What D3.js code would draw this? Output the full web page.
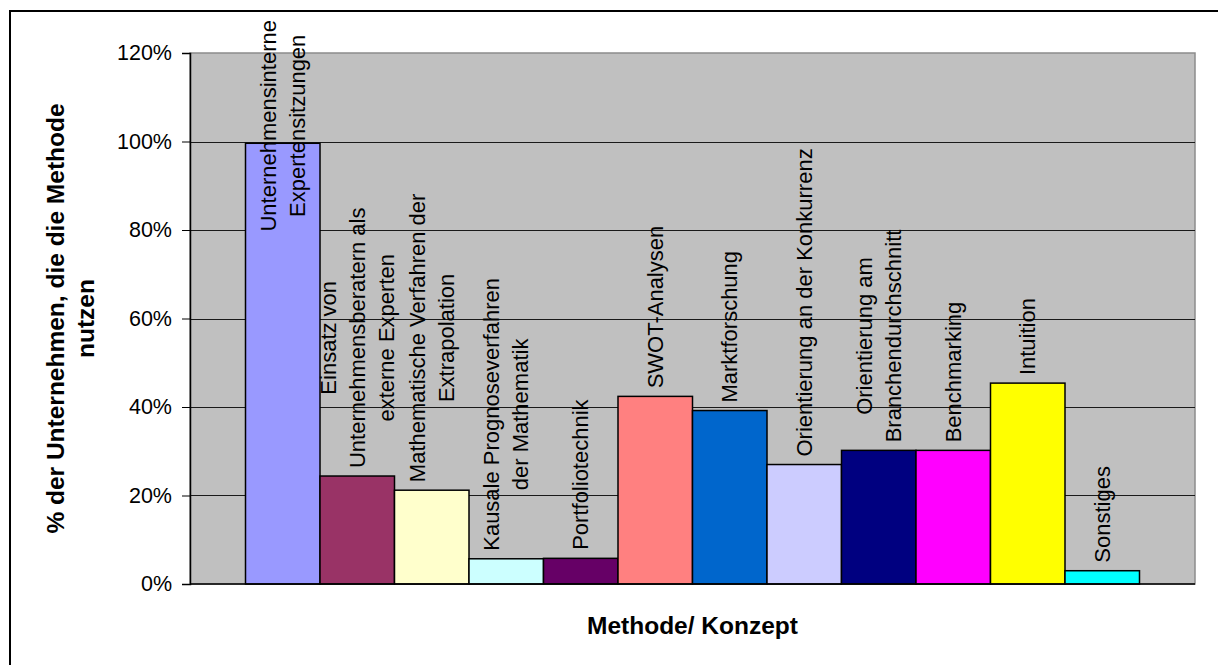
<!DOCTYPE html>
<html>
<head>
<meta charset="utf-8">
<script src="https://d3js.org/d3.v7.min.js"></script>
<style>
    body { margin: 0; background: #fff; }
    text { font-family: "Liberation Sans", Arial, sans-serif; fill: #000; }
</style>
</head>
<body>
<svg id="chart"></svg>
<script>
    // categories (label lines as shown above the bars)
    var categories = [
        ["Unternehmensinterne", "Expertensitzungen"],
        ["Einsatz von", "Unternehmensberatern als", "externe Experten"],
        ["Mathematische Verfahren der", "Extrapolation"],
        ["Kausale Prognoseverfahren", "der Mathematik"],
        ["Portfoliotechnik"],
        ["SWOT-Analysen"],
        ["Marktforschung"],
        ["Orientierung an der Konkurrenz"],
        ["Orientierung am", "Branchendurchschnitt"],
        ["Benchmarking"],
        ["Intuition"],
        ["Sonstiges"]
    ];
    // share of companies using the method
    var values = [0.996, 0.244, 0.212, 0.057, 0.058, 0.424, 0.392, 0.270, 0.302, 0.302, 0.454, 0.030];
    var colors = ["#9999ff", "#993366", "#ffffcc", "#ccffff", "#660066", "#ff8080",
                  "#0066cc", "#ccccff", "#000080", "#ff00ff", "#ffff00", "#00ffff"];
    var yTicks = [0, 0.2, 0.4, 0.6, 0.8, 1.0, 1.2];
    var yTitle = ["% der Unternehmen, die  die Methode", "nutzen"];
    var xTitle = "Methode/ Konzept";

    var width = 1218, height = 665;
    var plot = { left: 190, right: 1195, top: 53, bottom: 584 };

    var svg = d3.select("#chart")
        .attr("width", width)
        .attr("height", height);

    svg.append("rect")
        .attr("width", width).attr("height", height)
        .attr("fill", "#fff");

    // outer frame (runs off the right and bottom edge)
    svg.append("rect")
        .attr("x", 10).attr("y", 11)
        .attr("width", 1230).attr("height", 700)
        .attr("fill", "none")
        .attr("stroke", "#000")
        .attr("stroke-width", 2);

    var x = d3.scaleBand()
        .domain(d3.range(categories.length))
        .range([plot.left, plot.right])
        .paddingInner(0)
        .paddingOuter(0.745);

    var y = d3.scaleLinear()
        .domain([0, 1.2])
        .range([plot.bottom, plot.top]);

    // plot area
    svg.append("rect")
        .attr("x", plot.left).attr("y", plot.top)
        .attr("width", plot.right - plot.left)
        .attr("height", plot.bottom - plot.top)
        .attr("fill", "#c0c0c0")
        .attr("stroke", "#8c8c8c")
        .attr("stroke-width", 1.5);

    // gridlines
    svg.append("g")
        .selectAll("line")
        .data(yTicks.filter(d => d > 0 && d < 1.2))
        .enter()
        .append("line")
        .attr("x1", plot.left).attr("x2", plot.right)
        .attr("y1", d => Math.round(y(d)) + 0.5)
        .attr("y2", d => Math.round(y(d)) + 0.5)
        .attr("stroke", "#1a1a1a")
        .attr("stroke-width", 1);

    // bars
    svg.append("g")
        .selectAll("rect")
        .data(values)
        .enter()
        .append("rect")
        .attr("x", (d, i) => x(i))
        .attr("y", d => y(d))
        .attr("width", x.bandwidth())
        .attr("height", d => y(0) - y(d))
        .attr("fill", (d, i) => colors[i])
        .attr("stroke", "#000")
        .attr("stroke-width", 1.5);

    // y axis
    var yAxis = svg.append("g")
        .attr("transform", "translate(" + plot.left + ",0)")
        .call(d3.axisLeft(y)
            .tickValues(yTicks)
            .tickSize(8)
            .tickPadding(10)
            .tickFormat(d3.format(".0%")));
    yAxis.select(".domain").attr("stroke", "#000").attr("stroke-width", 1.5);
    yAxis.selectAll(".tick line").attr("stroke", "#000");
    yAxis.selectAll("text")
        .style("font-size", "21.5px")
        .attr("fill", "#000");

    // x axis line
    svg.append("line")
        .attr("x1", plot.left).attr("x2", plot.right)
        .attr("y1", y(0)).attr("y2", y(0))
        .attr("stroke", "#000")
        .attr("stroke-width", 1.5);

    // rotated labels above the bars
    var lineHeight = 29, labelSize = 22, gap = 8, topLimit = 20;
    categories.forEach(function (lines, i) {
        var cx = x(i) + x.bandwidth() / 2;
        var label = svg.append("text")
            .attr("text-anchor", "middle")
            .style("font-size", labelSize + "px");
        lines.forEach(function (line, j) {
            label.append("tspan")
                .attr("x", 0)
                .attr("y", (j - (lines.length - 1) / 2) * lineHeight + labelSize * 0.35)
                .text(line);
        });
        var len = label.node().getBBox().width;
        var cy = y(values[i]) - gap - len / 2;
        if (cy - len / 2 < topLimit) cy = topLimit + len / 2;
        label.attr("transform", "translate(" + cx + "," + cy + ") rotate(-90)");
    });

    // axis titles
    var yt = svg.append("text")
        .attr("text-anchor", "middle")
        .attr("transform", "translate(70," + (plot.top + plot.bottom) / 2 + ") rotate(-90)")
        .style("font-size", "24.5px")
        .style("font-weight", "bold");
    yTitle.forEach(function (line, j) {
        yt.append("tspan")
            .attr("x", 0)
            .attr("y", (j - (yTitle.length - 1) / 2) * 30 + 24.5 * 0.35)
            .text(line);
    });

    svg.append("text")
        .attr("x", (plot.left + plot.right) / 2)
        .attr("y", 634)
        .attr("text-anchor", "middle")
        .style("font-size", "24.5px")
        .style("font-weight", "bold")
        .text(xTitle);
</script>
</body>
</html>
